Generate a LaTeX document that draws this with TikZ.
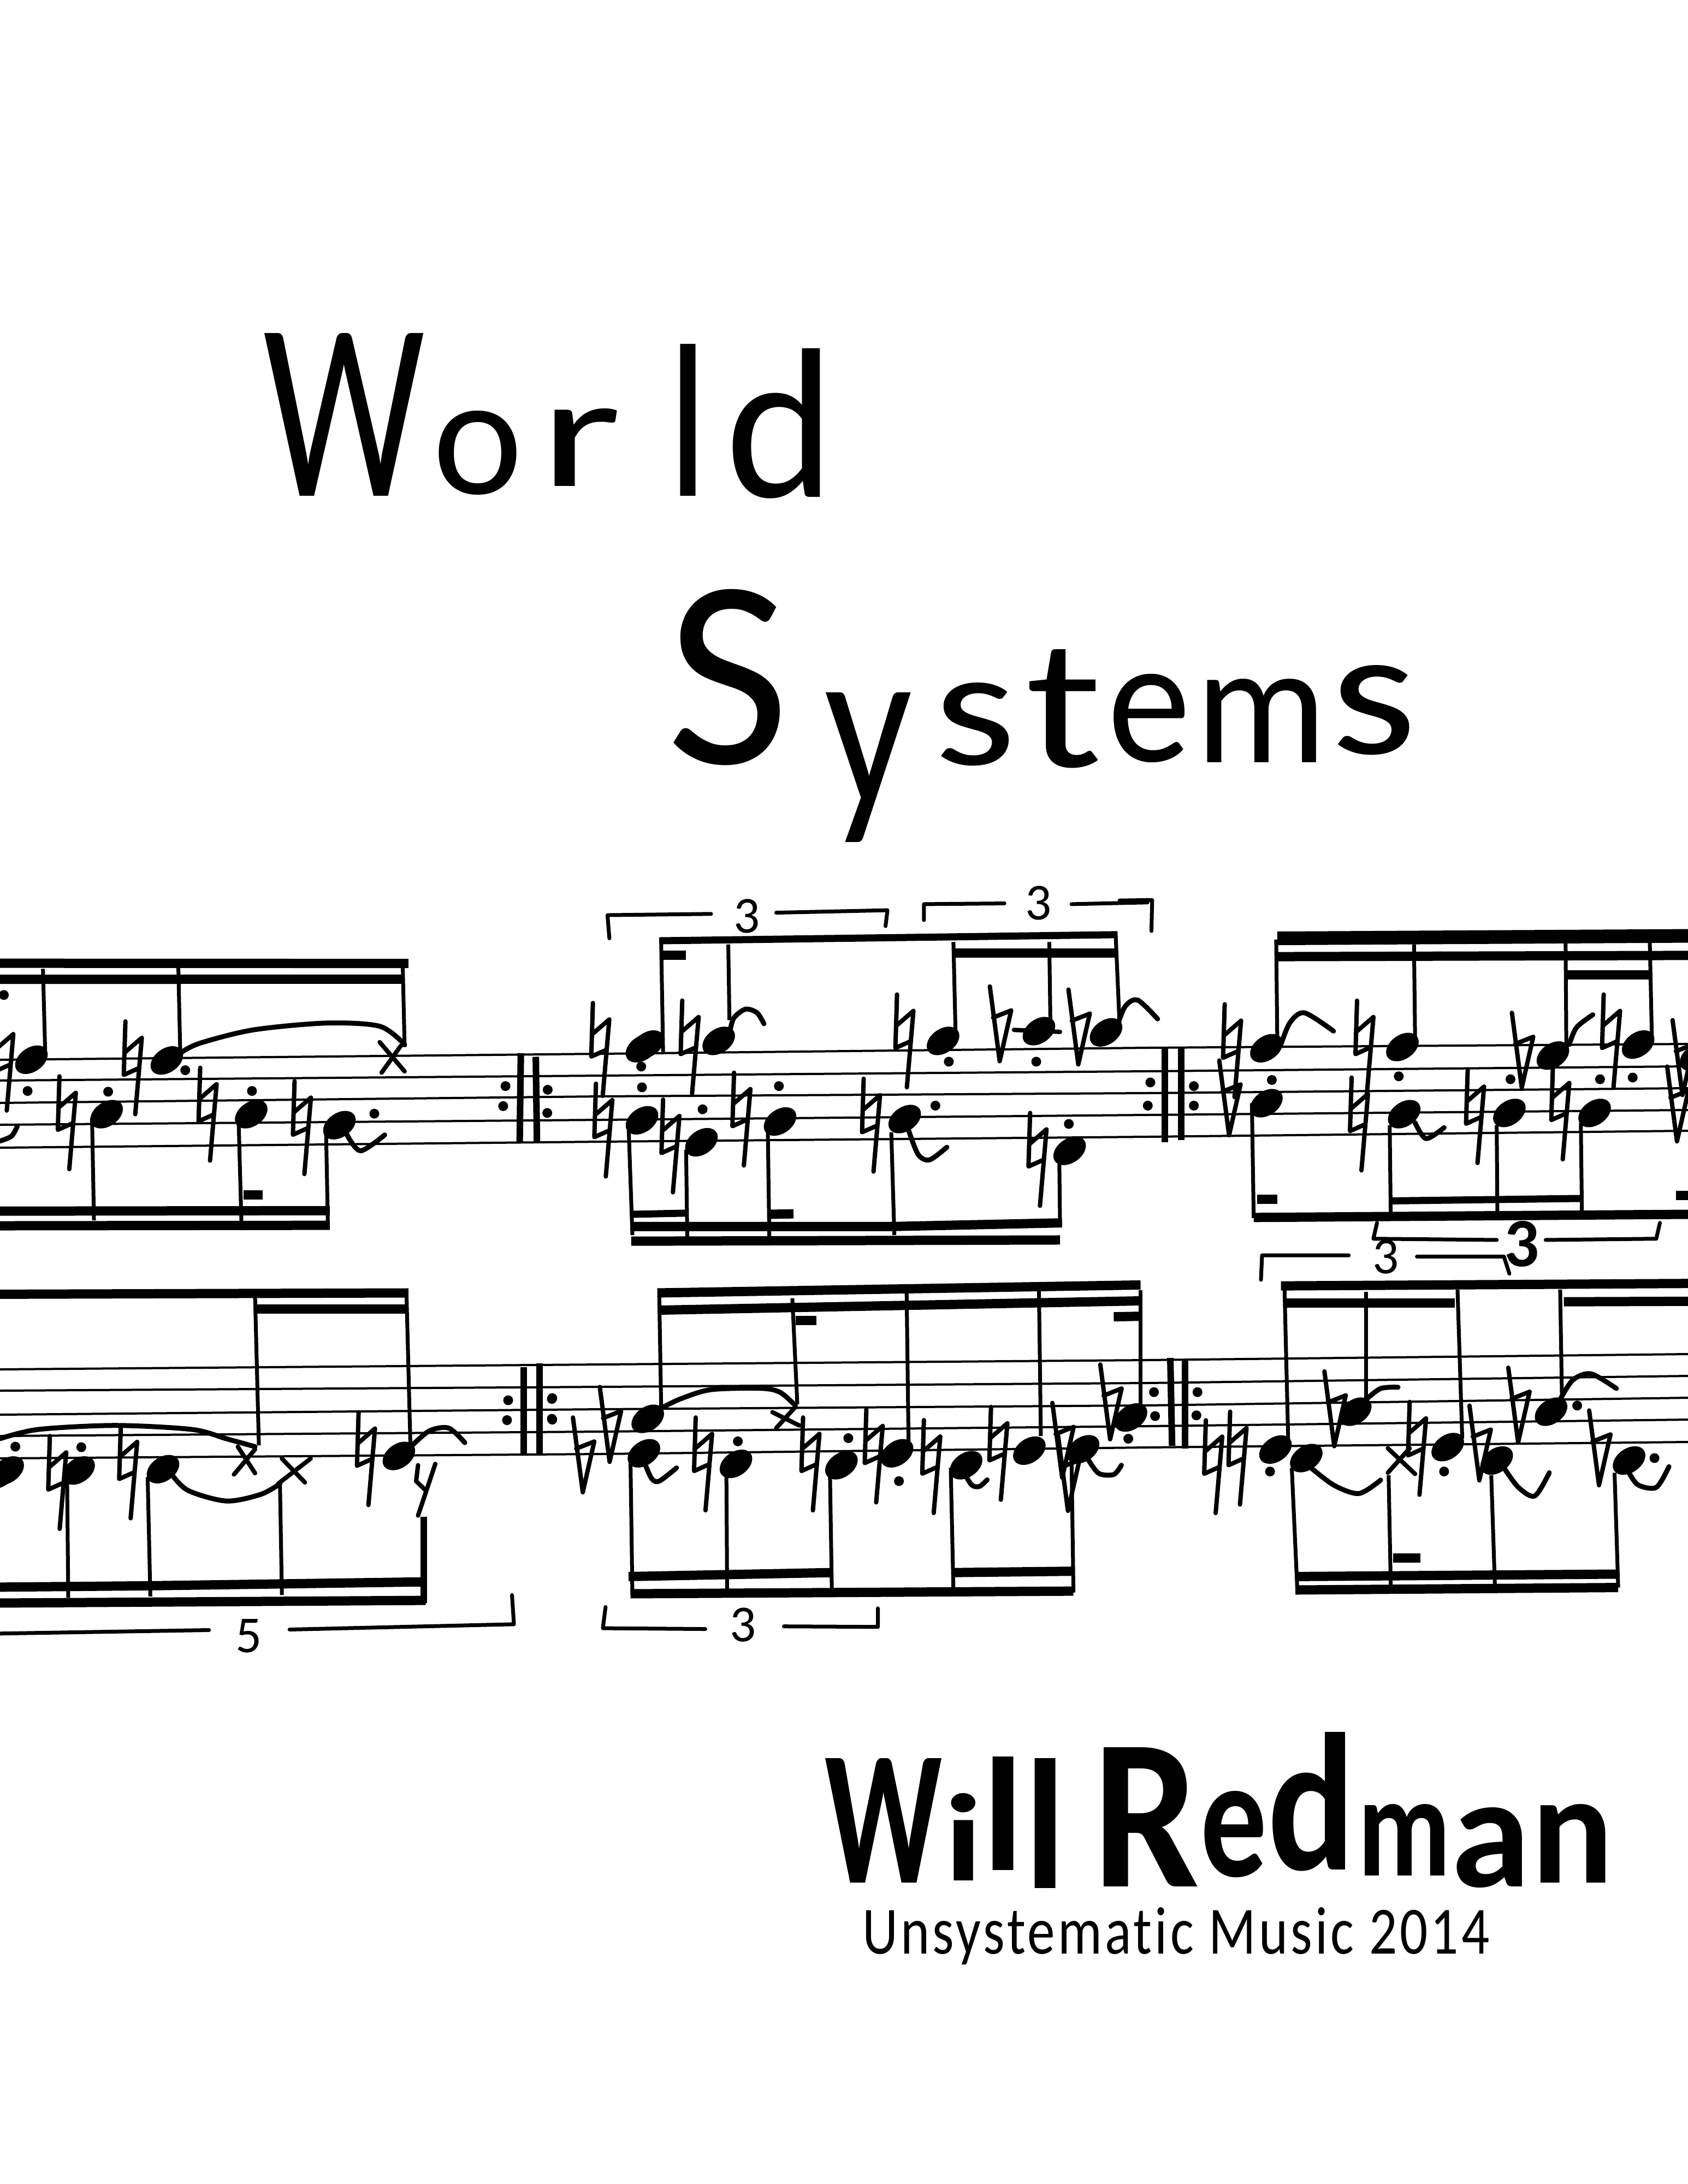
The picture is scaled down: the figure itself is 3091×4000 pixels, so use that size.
\documentclass[tikz,border=0pt]{standalone}
\usepackage{graphicx}
\usepackage{fontspec}
\usetikzlibrary{shapes.geometric}
\newfontfamily\handfont[Ligatures=NoCommon]{Carlito}
\newfontfamily\handspaced[LetterSpace=5,Ligatures=NoCommon]{Carlito}
\newfontfamily\handbold[Ligatures=NoCommon]{Carlito Bold}
\def\px{0.01cm}
\newlength\pxlen
\setlength\pxlen{0.01cm}
\tikzset{ink/.style={draw=black,line cap=round,line join=round}}
\tikzset{inkline/.style={ink,line width=8*\px}}
\tikzset{staffline/.style={draw=black,line width=4*\px}}
\tikzset{stem/.style={draw=black,line width=7*\px}}
\tikzset{beam/.style={draw=black,line width=17*\px}}
\tikzset{thinbeam/.style={draw=black,line width=13*\px}}
\tikzset{fatbeam/.style={draw=black,line width=25*\px}}
\tikzset{barline/.style={draw=black,line width=12*\px}}
\tikzset{slur/.style={ink,line width=9*\px}}
\tikzset{bracket/.style={ink,line width=7*\px}}
\tikzset{notehead/.style={ellipse,fill=black,inner sep=0pt,minimum width=66*\px,minimum height=44*\px,rotate=35}}
\tikzset{augdot/.style={circle,fill=black,inner sep=0pt,minimum size=18*\px}}
\tikzset{tupnum/.style={inner sep=0pt,font=\handfont\fontsize{27}{27}\selectfont}}
\tikzset{titleword/.style={anchor=base west,inner sep=0pt}}
\tikzset{natsign/.pic={\draw[inkline,x=\px,y=-\px] (0,0) -- (-3,98) -- (24,86) (30,30) -- (18,170) (30,30) -- (0,56);}}
\tikzset{flatsign/.pic={\draw[inkline,x=\px,y=-\px] (0,0) -- (18,137) -- (39,44) -- (6,57);}}
% the six strips of music, each with its own grid
\tikzset{stripA/.style={shift={(0,1600)},x=0.007015cm,y=-0.004464cm}}
\tikzset{stripB/.style={shift={(1000,1600)},x=0.007015cm,y=-0.004464cm}}
\tikzset{stripC/.style={shift={(2050,1600)},x=0.006639cm,y=-0.004464cm}}
\tikzset{stripD/.style={shift={(0,2300)},x=0.007015cm,y=-0.004847cm}}
\tikzset{stripE/.style={shift={(1000,2300)},x=0.007015cm,y=-0.004847cm}}
\tikzset{stripF/.style={shift={(2050,2250)},x=0.006639cm,y=-0.004464cm}}
\newcommand\heads[2]{\foreach \x/\y [count=\i] in {#2} \node[notehead] (head#1-\i) at (\x,\y) {};}
\newcommand\points[2]{\foreach \x/\y [count=\i] in {#2} \node[augdot] (dot#1-\i) at (\x,\y) {};}
\newcommand\nats[1]{\foreach \x/\y in {#1} \pic at (\x,\y) {natsign};}
\newcommand\flats[1]{\foreach \x/\y in {#1} \pic at (\x,\y) {flatsign};}
\newcommand\strokes[2]{\foreach \a/\b/\c/\d in {#2} \draw[#1] (\a,\b) -- (\c,\d);}
% one letter of a title: width, height, lift, letter; then the gap after it
\newcommand\glyph[4]{\raisebox{#3\pxlen}{\resizebox{#1\pxlen}{#2\pxlen}{#4}}}
\newcommand\gap[1]{\kern #1\pxlen\relax}

\begin{document}
\begin{tikzpicture}[x=\px,y=-\px]
    \useasboundingbox (0,0) rectangle (3091,4000);
    \fill[white] (0,0) rectangle (3091,4000);
    \clip (0,0) rectangle (3091,4000);

    % Draw the title and the names
    \node[titleword,font=\handfont] (world) at (482,908) {\glyph{295}{298}{0}{W}\gap{15}\glyph{165}{152}{4}{o}\gap{31}\glyph{150}{142}{18}{r}\gap{84}\glyph{75}{278}{0}{l}\gap{31}\glyph{200}{272}{-2}{d}};
    \node[titleword,font=\handfont] (systems) at (1220,1398) {\glyph{225}{319}{0}{S}\gap{65}\raisebox{-75\pxlen}{\resizebox*{160\pxlen}{274\pxlen}{y}}\gap{40}\glyph{150}{150}{-2}{s}\gap{18}\glyph{140}{215}{-6}{t}\gap{10}\glyph{152}{160}{4}{e}\gap{8}\glyph{240}{153}{2}{m}\gap{7}\glyph{158}{162}{18}{s}};
    \node[titleword,font=\handbold] (composer) at (1510,3450) {\glyph{215}{228}{2}{W}\gap{4}\glyph{70}{160}{6}{i}\glyph{75}{208}{25}{l}\gap{2}\glyph{75}{238}{-8}{l}\gap{50}\glyph{195}{255}{-5}{R}\gap{2}\glyph{122}{156}{14}{e}\gap{1}\glyph{160}{252}{26}{d}\gap{5}\glyph{170}{131}{15}{m}\glyph{145}{145}{-5}{a}\gap{2}\glyph{150}{144}{2}{n}};
    \node[titleword] (imprint) at (1579,3578) {\resizebox{11.47cm}{0.85cm}{\handspaced Unsystematic Music 2014}};

    % Draw the two staves
    \foreach \a/\b/\c/\d in {1941/1930/1919/1912,1979/1970/1962/1953,2020/2008/2002/1993,2060/2051/2042/2033,2102/2091/2082/2071,
                             2508/2499/2491/2480,2547/2540/2533/2520,2591/2581/2574/2560,2630/2622/2612/2600,2671/2663/2651/2641}
        \draw[staffline] (0,\a) -- (1100,\b) -- (2100,\c) -- (3091,\d);

    % Tuplet numbers
    \node[tupnum] (tup-a) at (1368,1678) {3};
    \node[tupnum] (tup-b) at (1902,1654) {3};
    \node[tupnum,font=\handbold\fontsize{36}{36}\selectfont] (tup-c) at (2787,2278) {3};
    \node[tupnum] (tup-d) at (2538,2302) {3};
    \node[tupnum] (tup-e) at (456,2996) {5};
    \node[tupnum] (tup-f) at (1361,2976) {3};

    % First strip of the upper staff
    \begin{scope}[stripA]
        \strokes{beam}{0/367/1065/368,0/433/1055/432,0/1382/860/1380,0/1442/860/1440,635/1316/685/1316}
        \strokes{stem}{112/390/118/740,465/385/470/735,1050/370/1055/710,240/1000/245/1420,622/1000/630/1460,850/1040/855/1450}
        \strokes{barline}{1358/735/1355/1100,1397/750/1400/1100}
        \heads{A}{82/762,435/765,278/985,655/985,885/1030}
        \points{A}{10/497,72/890,282/893,483/805,657/890,976/983,1318/870,1312/952,1428/885,1427/980}
        \nats{-8/590,155/830,327/605,522/795,768/850}
        \strokes{inkline}{990/690/1055/810,1045/705/995/815}
        \draw[slur] plot[smooth] coordinates {(470,735) (520,695) (660,640) (850,612) (990,625) (1055,700)};
        \draw[slur] plot[smooth] coordinates {(905,1070) (940,1135) (1003,1070)};
        \draw[slur] plot[smooth] coordinates {(0,1095) (30,1075) (45,1035)};
    \end{scope}

    % Second strip of the upper staff
    \begin{scope}[stripB]
        \draw[bracket] (165,265) -- (160,170) -- (430,165) (600,160) -- (890,150) -- (885,215);
        \draw[bracket] (985,190) -- (985,125) -- (1195,122) (1370,125) -- (1568,118);
        \strokes{thinbeam}{295/275/1490/250,225/1395/370/1390}
        \strokes{beam}{1065/325/1490/325,305/335/365/335,585/1395/645/1393}
        \draw[beam] (220,1445) -- (900,1445) -- (1345,1430);
        \strokes{beam}{222/1505/1340/1500}
        \strokes{stem}{300/280/305/730,475/290/478/600,1062/280/1068/680,1312/280/1315/630,1485/250/1495/610,
                       215/1030/225/1480,365/1130/368/1490,578/1040/582/1490,900/1060/908/1480,1338/1160/1340/1440}
        \heads{B}{265/700,250/715,450/685,1035/685,1285/645,1460/650,250/1010,405/1100,610/1015,935/1005,1365/1135}
        \points{B}{248/790,250/875,408/965,607/870,1050/770,1278/770,1015/950,1363/1025}
        \nats{122/530,355/520,915/495,130/860,305/925,490/815,828/840,1262/980}
        \flats{1157/462,1362/475}
        \strokes{inkline}{1220/640/1340/648}
        \draw[slur] plot[smooth] coordinates {(480,640) (490,590) (520,555) (550,570) (568,615)};
        \draw[slur] plot[smooth] coordinates {(945,1050) (970,1150) (1000,1172) (1045,1120)};
    \end{scope}

    % Third strip of the upper staff
    \begin{scope}[stripC]
        \draw[bracket] (0,110) -- (90,108) -- (88,235);
        \draw[bracket] (710,1430) -- (700,1495) -- (1040,1500) (1175,1500) -- (1480,1495) -- (1490,1430);
        \strokes{fatbeam}{435/265/1568/255}
        \strokes{beam}{430/340/1568/335,1235/415/1460/415,370/1408/1568/1395,380/1333/435/1333,1535/1318/1568/1318}
        \strokes{thinbeam}{750/1340/1275/1330}
        \strokes{stem}{432/270/435/680,812/290/815/680,1230/270/1232/710,1462/270/1468/680,
                       365/940/370/1410,745/1030/748/1420,1040/1030/1042/1400,1272/1020/1275/1390}
        \strokes{barline}{125/715/125/1100,170/710/170/1090}
        \heads{C}{405/715,780/710,1195/745,1430/700,1590/750,405/940,785/985,1075/980,1310/980}
        \points{C}{420/845,770/830,1078/842,1325/842,1415/835,85/855,78/950,205/870,205/950}
        \nats{290/535,655/520,640/835,960/805,1335/495,1195/790}
        \flats{1082/570,275/765,1525/600,1510/790}
        \draw[slur] plot[smooth] coordinates {(-10,640) (15,545) (50,518) (105,595)};
        \draw[slur] plot[smooth] coordinates {(445,700) (470,610) (510,570) (590,645)};
        \draw[slur] plot[smooth] coordinates {(1240,700) (1260,630) (1305,578)};
        \draw[slur] plot[smooth] coordinates {(815,1020) (845,1085) (895,1040)};
    \end{scope}

    % First strip of the lower staff
    \begin{scope}[stripD]
        \draw[bracket] (0,1425) -- (545,1412) (755,1410) -- (1340,1390) -- (1335,1280);
        \strokes{beam}{0/145/1065/140,670/200/1060/200}
        \draw[beam] (0,1250) -- (380,1245) -- (1110,1230);
        \strokes{beam}{0/1310/1110/1300}
        \strokes{stem}{665/150/675/715,1060/150/1070/710,175/850/178/1290,385/835/392/1285,730/860/735/1280}
        \strokes{barline}{1105/985/1105/1310,1365/420/1365/745,1407/405/1407/745}
        \heads{D}{20/810,0/825,205/810,425/805,1040/755}
        \points{D}{40/720,212/722,1325/545,1322/620,1440/537,1440/618}
        \nats{130/680,315/640,935/590}
        \strokes{inkline}{620/720/665/820,665/730/610/825,735/765/795/855,810/765/725/860,1135/785/1090/980,1090/790/1085/850}
        \draw[inkline] (1085,850) -- (1110,885);
        \draw[slur] plot[smooth] coordinates {(0,690) (100,655) (300,640) (500,655) (590,690) (665,720)};
        \draw[slur] plot[smooth] coordinates {(445,820) (490,885) (590,925) (680,900) (730,860)};
        \draw[slur] plot[smooth] coordinates {(1075,715) (1120,660) (1170,650) (1212,705)};
    \end{scope}

    % Second strip of the lower staff
    \begin{scope}[stripE]
        \draw[bracket] (155,1325) -- (148,1405) -- (415,1408) (620,1398) -- (865,1400) -- (865,1330);
        \strokes{beam}{290/140/1550/110,295/205/1545/170,650/245/705/245,1480/230/1550/228}
        \strokes{beam}{215/1210/745/1195,1065/1195/1370/1190,220/1275/1375/1265}
        \strokes{stem}{295/150/300/570,642/160/655/560,940/140/945/700,1285/130/1290/680,1550/130/1550/580,
                       220/770/225/1280,470/810/472/1260,740/810/745/1260,1055/800/1062/1260,1370/770/1375/1270}
        \heads{E}{265/615,255/745,495/785,770/790,915/745,1095/790,1260/735,1400/730,1525/610}
        \points{E}{15/540,15/615,500/700,788/688,920/850,1518/690}
        \nats{390/610,670/610,835/580,985/620,1160/570}
        \flats{70/610,140/495,1445/410,1320/555,1335/680}
        \strokes{inkline}{590/590/660/640,650/570/600/650}
        \draw[slur] plot[smooth] coordinates {(300,575) (350,540) (430,505) (560,500) (610,515) (650,565)};
        \draw[slur] plot[smooth] coordinates {(255,775) (275,840) (295,850) (340,800)};
        \draw[slur] plot[smooth] coordinates {(1090,820) (1110,865) (1130,870) (1150,845)};
        \draw[slur] plot[smooth] coordinates {(1410,760) (1440,820) (1480,825) (1500,790)};
    \end{scope}

    % Third strip of the lower staff
    \begin{scope}[stripF]
        \draw[bracket] (390,210) -- (393,110) -- (632,110) (820,115) -- (1060,115) -- (1075,185);
        \strokes{beam}{445/235/1568/225,460/305/925/305,1225/300/1568/298,485/1425/1375/1415,485/1480/1375/1470,755/1350/830/1350}
        \strokes{stem}{455/250/465/860,680/260/680/710,932/250/945/860,1215/250/1220/700,
                       475/980/490/1470,742/1010/748/1470,1025/1010/1035/1460,1365/1000/1375/1470}
        \strokes{barline}{140/530/145/890,180/540/180/900}
        \heads{F}{430/905,515/940,650/750,905/895,1040/950,1190/750,1405/950}
        \points{F}{95/670,98/768,215/670,212/765,415/995,895/995,1262/725,1475/940}
        \nats{238/785,305/750,800/710}
        \flats{565/585,1072/570,1295/745,965/725}
        \strokes{inkline}{740/900/815/1005,800/900/740/1000}
        \draw[slur] plot[smooth] coordinates {(680,700) (720,655) (768,650)};
        \draw[slur] plot[smooth] coordinates {(520,970) (590,1050) (660,1085) (720,1030)};
        \draw[slur] plot[smooth] coordinates {(1215,700) (1250,620) (1300,595) (1370,655)};
        \draw[slur] plot[smooth] coordinates {(1060,980) (1100,1060) (1145,1095) (1185,1000)};
        \draw[slur] plot[smooth] coordinates {(1405,1000) (1430,1050) (1480,1060) (1515,975)};
    \end{scope}
\end{tikzpicture}
\end{document}
